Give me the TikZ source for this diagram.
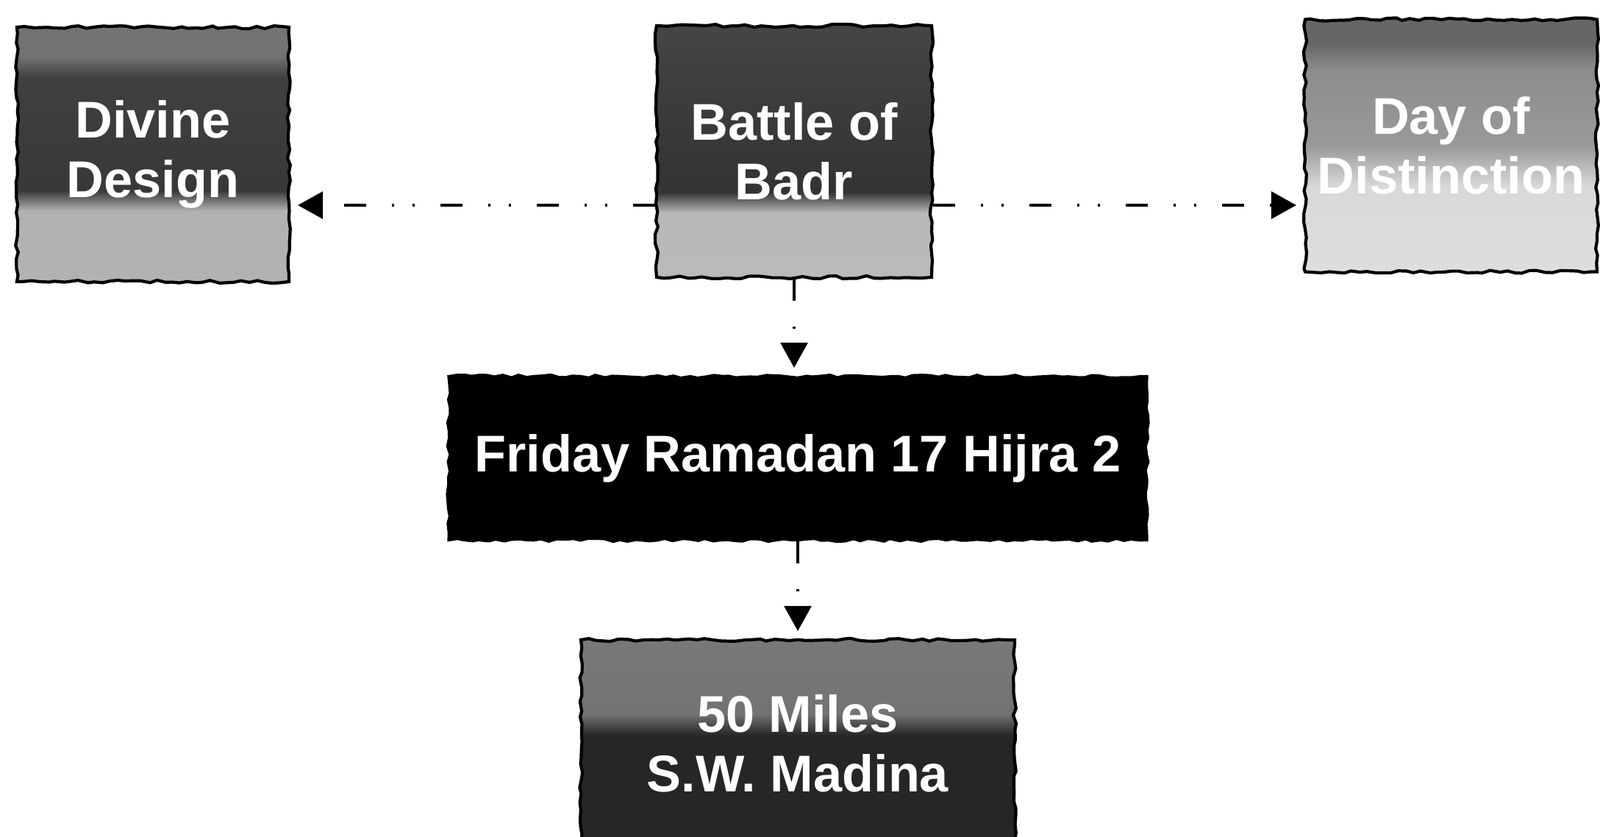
\documentclass[tikz,border=0pt]{standalone}
\usepackage{fontspec}
\setmainfont{Liberation Sans}
\usetikzlibrary{arrows.meta,decorations.pathmorphing}
% shadings for the speckled boxes (25bp = bottom edge, 75bp = top edge)
\pgfdeclareverticalshading{divineshade}{100bp}{color(0bp)=(black!30); color(39bp)=(black!30); color(43bp)=(black!78); color(65bp)=(black!75); color(69bp)=(black!55); color(100bp)=(black!55)}
\pgfdeclareverticalshading{badrshade}{100bp}{color(0bp)=(black!25); color(38bp)=(black!28); color(42bp)=(black!80); color(67bp)=(black!75); color(100bp)=(black!65)}
\pgfdeclareverticalshading{dayshade}{100bp}{color(0bp)=(black!10); color(42bp)=(black!15); color(50bp)=(black!40); color(65bp)=(black!45); color(70bp)=(black!60); color(100bp)=(black!60)}
\pgfdeclareverticalshading{milesshade}{100bp}{color(0bp)=(black!85); color(52bp)=(black!85); color(57bp)=(black!55); color(100bp)=(black!50)}

\begin{document}
\begin{tikzpicture}[>={Triangle[length=3.4mm, width=3.7mm]},
    box/.style={draw=black, line width=1.2pt, text=white, align=center, inner sep=0pt,
      font=\bfseries\fontsize{20}{23}\selectfont,
      decorate, decoration={random steps, segment length=3pt, amplitude=0.6pt}},
    link/.style={->, line width=0.9pt, shorten >=1mm,
      dash pattern=on 3mm off 3.5mm on 0.3mm off 2.5mm on 0.3mm off 3.5mm}]
  \useasboundingbox (0,0) rectangle (21.76,11.38);
  % --- top row ---
  \node[box, shade, shading=divineshade, minimum width=3.7cm, minimum height=3.46cm]
    (divine) at (2.08,9.28) {Divine\\Design};
  \node[box, shade, shading=badrshade, minimum width=3.74cm, minimum height=3.42cm]
    (badr) at (10.80,9.32) {Battle of\\Badr};
  \node[box, shade, shading=dayshade, minimum width=3.97cm, minimum height=3.43cm]
    (day) at (19.735,9.40) {Day of\\Distinction};
  % --- date and place ---
  \node[box, fill=black, minimum width=9.49cm, minimum height=2.22cm]
    (friday) at (10.85,5.15) {Friday Ramadan 17 Hijra 2};
  \node[box, shade, shading=milesshade, minimum width=5.9cm, minimum height=2.82cm]
    (miles) at (10.85,1.27) {50 Miles\\S.W. Madina};
  % --- connectors ---
  \draw[link] ([yshift=-7.3mm]badr.west) -- ([yshift=-7.3mm]badr.west -| divine.east);
  \draw[link] ([yshift=-7.3mm]badr.east) -- ([yshift=-7.3mm]badr.east -| day.west);
  \draw[link] (badr.south) -- (badr.south |- friday.north);
  \draw[link] (friday.south) -- (friday.south |- miles.north);
\end{tikzpicture}
\end{document}
